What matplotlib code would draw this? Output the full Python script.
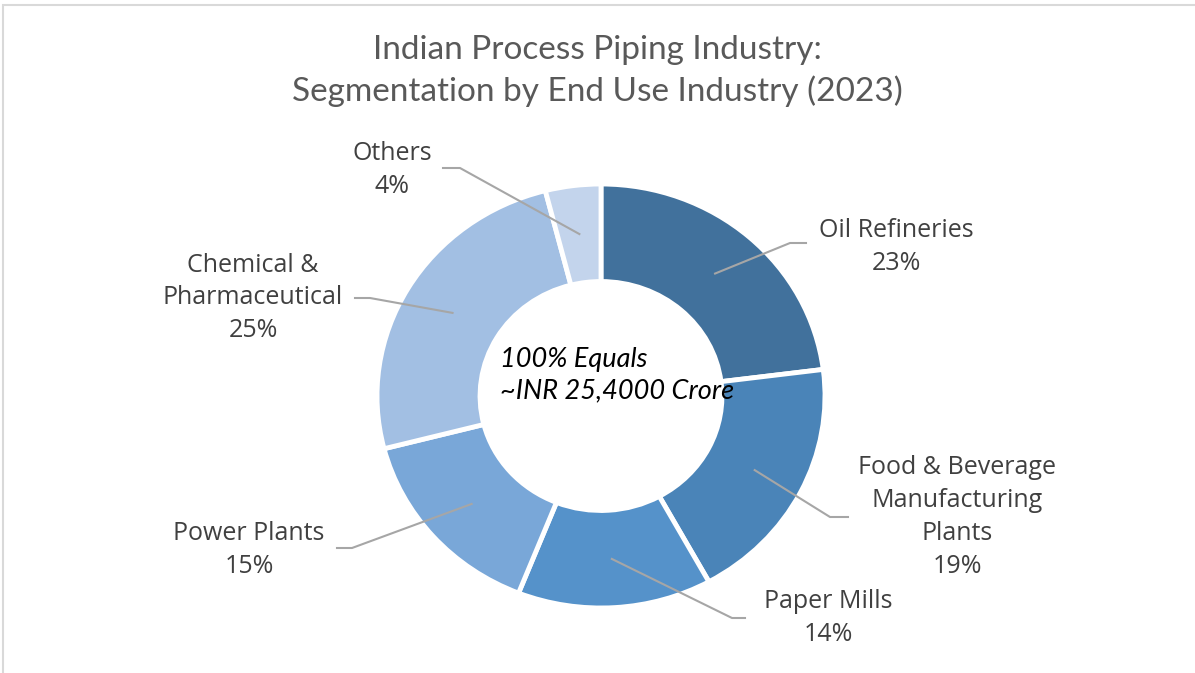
import matplotlib.pyplot as plt
import numpy as np
from matplotlib.patches import Rectangle

# ---------------- Data ----------------
segments = ["Oil Refineries", "Food & Beverage\nManufacturing\nPlants", "Paper Mills",
            "Power Plants", "Chemical &\nPharmaceutical", "Others"]
shares = [23, 19, 14, 15, 25, 4]
colors = ["#41719C", "#4A84B8", "#5592CA", "#79A7D8", "#A2BFE3", "#C3D4EC"]

# label layout (pixel positions of label centre / elbow end of leader)
label_pos = [(896, 247), (957, 517), (828, 618), (249, 550), (253, 298), (392, 170)]
elbow_pos = [(790, 243), (830, 517), (732, 618), (352, 548), (370, 298), (460, 168)]
end_pos = [(806, 243), (848, 517), (745, 618), (337, 548), (355, 298), (443, 168)]

W, H = 1195, 673
CX, CY = 601, 396
RX, RY = 224, 212   # the original ring is a touch wider than tall

fig = plt.figure(figsize=(W / 100, H / 100), dpi=100)
ax = fig.add_axes([0, 0, 1, 1])


def px(x, y):
    return (x - CX) / RX, (CY - y) / RY


wedges, _ = ax.pie(shares, colors=colors, startangle=90, counterclock=False,
                   radius=1.0, wedgeprops=dict(width=0.46, edgecolor="white", linewidth=3.5),
                   frame=True)
ax.set_xlim(-CX / RX, (W - CX) / RX)
ax.set_ylim(-(H - CY) / RY, CY / RY)
ax.set_aspect("auto")
ax.axis("off")

label_font = dict(family=["Open Sans", "DejaVu Sans"], size=18, color="#404040")
for w, name, val, lp, ep, en in zip(wedges, segments, shares, label_pos, elbow_pos, end_pos):
    ang = np.deg2rad((w.theta1 + w.theta2) / 2)
    sx, sy = 0.77 * np.cos(ang), 0.77 * np.sin(ang)
    ex, ey = px(*ep)
    nx, ny = px(*en)
    ax.plot([sx, ex, nx], [sy, ey, ny], color="#A6A6A6", lw=1.5, clip_on=False)
    tx, ty = px(*lp)
    ax.text(tx, ty, f"{name}\n{val}%", ha="center", va="center",
            linespacing=1.42, **label_font)

# centre text
cx, cy = px(500, 375)
ax.text(cx, cy, "100% Equals\n~INR 25,4000 Crore", ha="left", va="center",
        family=["Lato", "DejaVu Sans"], style="italic", size=19.5, color="black",
        linespacing=1.32)

fig.text(0.5, 1 - 71 / H, "Indian Process Piping Industry:\nSegmentation by End Use Industry (2023)",
         ha="center", va="center", family=["Lato", "DejaVu Sans"], size=24,
         color="#595959", linespacing=1.42)

fig.patches.append(Rectangle((3 / W, -0.1), 1.2, 1 - 5 / H + 0.1, transform=fig.transFigure,
                             fill=False, edgecolor="#D9D9D9", lw=1.5))

fig.savefig("out.png", dpi=100, facecolor="white")
